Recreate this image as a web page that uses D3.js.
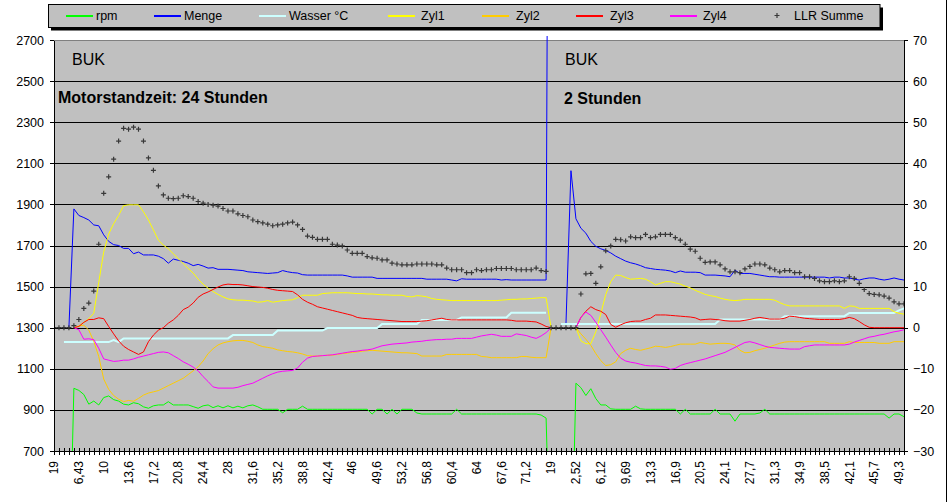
<!DOCTYPE html>
<html><head><meta charset="utf-8">
<script src="https://cdn.jsdelivr.net/npm/d3@7"></script>
<style>body{margin:0;background:#fff;} svg{display:block;font-family:"Liberation Sans",Arial,sans-serif;}</style>
</head><body><svg id="c" width="949" height="502"></svg>
<script>
const seriesNames = ["rpm","Menge","Wasser °C","Zyl1","Zyl2","Zyl3","Zyl4","LLR Summe"];
const tickLabels = ["19","6,43","10","13,6","17,2","20,8","24,4","28","31,6","35,2","38,8","42,4","46","49,6","53,2","56,8","60,4","64","67,6","71,2","19","2,52","6,12","9,69","13,3","16,9","20,5","24,1","27,7","31,3","34,9","38,5","42,1","45,7","49,3"];
const leftTicks = [700,900,1100,1300,1500,1700,1900,2100,2300,2500,2700];
const rightTicks = [-30,-20,-10,0,10,20,30,40,50,60,70];
const annotations = [["BUK",false],["Motorstandzeit: 24 Stunden",true],["BUK",false],["2 Stunden",true]];

const rpm = [0,0,0,0,1005,995,975,928,943,924,
960,968,950,943,928,924,935,930,915,908,
920,924,924,940,924,924,924,924,916,908,
920,924,911,920,910,920,910,918,910,920,
924,915,903,903,903,903,886,903,903,903,
918,903,903,903,903,903,903,903,903,903,
903,903,903,903,880,903,903,880,903,880,
903,903,903,885,880,880,880,880,880,880,
880,903,880,880,880,880,880,880,880,880,
880,880,880,880,880,880,880,880,875,860,
0,0,0,0,0,1030,1008,970,1003,955,
924,924,905,903,903,903,903,918,905,903,
903,903,903,903,903,903,880,903,880,880,
880,880,880,903,880,880,880,845,880,880,
880,880,885,903,880,880,880,880,880,880,
880,880,880,880,880,880,880,880,880,880,
880,880,880,880,880,880,880,880,860,880,
880,867];

const menge = [null,null,null,0,28.9,27.3,26.8,26.2,25.0,24.8,
22.6,21.0,20.2,20.0,19.3,19.3,18.0,18.4,17.7,17.7,
17.7,17.4,16.8,15.7,16.7,16.4,16.1,15.7,15.1,15.4,
15.0,14.5,14.6,14.2,14.2,14.2,14.1,14.0,13.9,13.6,
13.5,13.4,13.3,13.2,13.3,13.4,13.9,13.6,13.4,13.3,
12.9,12.8,12.8,12.8,12.8,12.8,12.8,12.8,12.8,12.6,
12.3,12.3,12.3,12.3,12.3,12.0,12.0,12.0,12.0,12.0,
12.0,12.0,12.0,12.0,12.0,11.8,11.8,11.8,11.8,11.8,
11.6,11.4,11.9,11.8,11.8,11.8,11.8,11.8,11.8,11.8,
11.6,11.7,11.6,11.6,11.6,11.6,11.6,11.6,11.6,11.6,
300,null,null,1.1,38.2,26.5,24.2,23.0,21.0,19.8,
19.2,18.8,18.2,17.4,16.8,16.2,15.8,15.5,15.1,14.6,
14.4,14.2,14.1,14.0,13.8,13.4,13.8,13.5,13.5,13.5,
13.4,12.8,12.8,12.8,12.7,12.6,12.4,14.0,13.2,13.2,
13.2,13.0,12.8,12.6,12.4,12.4,12.3,12.3,12.3,12.3,
12.3,12.3,12.3,12.3,12.3,12.3,12.1,12.3,12.3,12.1,
12.1,11.8,11.6,11.9,12.1,12.1,11.8,11.6,11.8,12.1,
11.8,11.6];

const wasser = [null,null,-3.5,-3.5,-3.5,-3.5,-3.5,-3.5,-3.5,-3.5,
-3.5,-3.5,-3.0,-3.5,-2.6,-2.6,-2.6,-2.6,-2.6,-2.6,
-2.6,-2.6,-2.6,-2.6,-2.6,-2.6,-2.6,-2.6,-2.6,-2.6,
-2.6,-2.6,-2.6,-2.6,-2.6,-2.6,-1.8,-1.8,-1.8,-1.8,
-1.8,-1.8,-1.8,-1.8,-1.8,-0.7,-0.7,-0.7,-0.7,-0.7,
-0.7,-0.7,-0.7,-0.7,-0.7,-0.1,-0.1,-0.1,-0.1,-0.1,
-0.1,-0.1,-0.1,-0.1,-0.1,-0.1,0.9,0.9,0.9,0.9,
0.9,0.9,0.9,0.9,1.9,1.9,1.9,1.9,1.9,1.9,
1.9,1.9,2.5,2.5,2.5,2.5,2.5,2.5,2.5,2.5,
2.5,2.5,3.65,3.65,3.65,3.65,3.65,3.65,3.65,3.65,
null,null,0.9,0.9,0.9,0.9,0.9,0.9,0.9,0.9,
0.9,0.9,0.9,0.9,0.9,0.9,0.9,0.9,0.9,0.9,
0.9,0.9,0.9,0.9,0.9,0.9,0.9,0.9,0.9,0.9,
0.9,0.9,0.9,0.9,2.0,2.0,2.0,2.0,2.0,2.0,
2.0,2.0,2.0,2.0,2.0,2.0,2.0,2.8,2.8,2.8,
2.8,2.8,2.8,2.8,2.8,2.8,2.8,2.8,2.8,2.8,
3.6,3.6,3.6,3.6,3.6,3.6,3.6,3.6,3.6,3.6,
4.2,4.7];

const zyl1 = [null,null,null,null,0,0.4,1.3,2.2,3.5,11.0,
18.4,22.8,25.3,27.3,29.7,29.9,29.9,29.9,28.2,26.2,
23.8,21.3,20.1,19.2,18.0,16.8,15.6,14.4,13.3,11.8,
10.6,9.6,8.8,8.1,7.5,7.0,6.8,6.7,6.7,6.6,
6.5,6.2,6.3,6.6,6.2,6.4,6.6,6.7,6.8,7.3,
7.9,7.9,7.9,7.9,8.3,8.4,8.5,8.5,8.5,8.5,
8.4,8.3,8.3,8.2,8.2,8.1,8.0,8.0,7.9,7.9,
7.9,7.6,7.5,7.8,7.7,7.5,7.1,6.9,6.8,6.7,
6.6,6.6,6.6,6.6,6.6,6.6,6.6,6.6,6.6,6.6,
6.7,6.8,6.9,6.9,7.0,7.0,7.1,7.2,7.3,7.3,
0,null,null,null,null,0,-3.2,-3.9,-3.9,-1.0,
3.4,8.1,11.2,12.8,12.7,12.2,11.8,11.9,12.0,11.8,
11.2,10.4,10.8,11.2,11.2,10.9,10.6,10.1,9.7,9.1,
8.6,8.1,7.8,7.6,7.2,6.9,6.7,6.6,6.7,6.9,
6.9,6.9,6.9,6.9,6.9,6.7,6.1,5.6,5.3,5.3,
5.3,5.3,5.3,5.3,5.3,5.3,5.3,5.3,5.3,4.7,
5.3,5.2,4.7,4.7,4.7,4.7,4.7,4.7,4.7,3.9,
3.5,3.3];

const zyl2 = [null,null,null,null,0,0.4,0.6,-0.6,-3.3,-7.0,
-12.5,-15.0,-16.5,-17.4,-18.0,-17.7,-17.9,-17.2,-16.4,-15.9,
-15.6,-15.3,-14.7,-14.1,-13.5,-12.9,-12.3,-11.4,-10.5,-9.5,
-8.1,-6.3,-5.1,-4.2,-3.7,-3.4,-3.2,-3.1,-3.1,-3.3,
-3.6,-4.2,-4.6,-4.8,-5.0,-5.4,-5.6,-5.8,-5.9,-6.1,
-6.4,-6.8,-6.9,-6.9,-6.8,-6.7,-6.7,-6.5,-6.3,-6.2,
-6.0,-5.9,-5.7,-5.6,-5.5,-5.6,-5.7,-5.8,-5.9,-6.0,
-6.1,-6.1,-6.2,-6.3,-6.9,-6.9,-6.9,-6.9,-6.9,-6.5,
-6.5,-6.5,-6.5,-6.5,-6.5,-6.5,-7.0,-7.1,-7.3,-7.3,
-7.3,-7.3,-7.3,-7.3,-7.0,-7.0,-7.2,-7.3,-7.3,-7.3,
0,null,null,null,null,0,-1.5,-2.8,-4.3,-6.3,
-8.0,-9.2,-9.0,-8.3,-6.3,-5.5,-5.0,-5.3,-5.5,-5.2,
-4.9,-4.5,-4.6,-4.8,-4.6,-4.3,-4.0,-4.0,-4.0,-4.0,
-3.6,-3.8,-4.0,-3.9,-3.8,-3.8,-3.9,-4.2,-5.5,-6.1,
-6.0,-5.6,-5.3,-5.0,-4.6,-4.2,-3.8,-3.5,-3.4,-3.4,
-3.4,-3.4,-3.4,-3.4,-3.4,-3.4,-3.8,-3.8,-3.8,-3.8,
-3.4,-3.6,-3.6,-3.6,-3.6,-3.6,-3.8,-3.8,-3.8,-3.4,
-3.4,-3.4];

const zyl3 = [null,null,null,null,0,0.3,1.3,2.0,2.0,2.4,
2.2,0.3,-1.5,-3.2,-4.5,-5.3,-5.9,-6.5,-5.9,-3.4,
-1.8,-0.6,0.0,1.1,1.9,3.0,4.4,5.0,6.0,7.4,
8.2,8.7,9.3,9.9,10.4,10.6,10.5,10.5,10.4,10.2,
10.0,9.9,9.8,9.6,9.3,9.1,9.0,8.9,8.8,8.0,
6.9,6.2,5.7,5.1,4.8,4.5,4.2,3.9,3.6,3.3,
3.0,2.5,2.3,2.2,2.1,2.0,1.9,1.8,1.7,1.6,
1.5,1.5,1.5,1.5,1.6,1.7,1.9,2.1,2.3,2.0,
1.9,1.9,1.9,1.9,1.9,1.9,1.9,1.9,1.9,1.9,
1.9,1.9,1.8,1.6,1.6,1.6,1.5,1.4,0.9,0.3,
0,null,null,null,null,0,2.5,4.0,5.1,4.4,
4.0,3.2,0.8,0.1,0.7,1.2,1.5,1.6,1.6,2.0,
2.3,3.1,3.1,3.1,3.0,2.9,2.8,2.7,2.6,2.4,
1.9,2.0,2.1,2.0,1.9,1.7,1.6,1.6,1.6,1.8,
2.0,2.3,2.5,2.3,2.1,2.1,2.1,2.3,2.8,2.7,
2.5,2.3,2.2,2.1,2.0,2.0,2.0,2.0,2.0,2.2,
2.5,2.2,1.5,0.7,0.1,0,0,0,0,0,
0,0];

const zyl4 = [null,null,null,null,0,-0.5,-2.8,-2.7,-2.9,-5.0,
-7.6,-7.9,-8.2,-8.1,-7.9,-7.9,-7.6,-7.2,-6.9,-6.6,
-6.3,-6.0,-5.9,-6.1,-6.8,-7.5,-8.3,-8.9,-9.6,-10.5,
-11.9,-13.1,-14.4,-14.7,-14.7,-14.7,-14.7,-14.5,-14.1,-13.8,
-13.5,-12.9,-12.3,-11.7,-11.2,-10.8,-10.6,-10.5,-10.4,-9.8,
-8.4,-7.4,-7.0,-6.9,-6.8,-6.7,-6.6,-6.4,-6.2,-6.0,
-5.8,-5.7,-5.5,-5.4,-5.2,-4.8,-4.4,-4.2,-4.0,-3.9,
-3.8,-3.7,-3.5,-3.4,-3.3,-3.1,-3.0,-2.9,-2.9,-2.8,
-2.8,-2.6,-2.6,-2.6,-2.6,-2.3,-2.0,-1.8,-1.6,-1.8,
-2.1,-2.1,-2.1,-1.5,-1.7,-1.9,-2.3,-2.6,-2.0,-1.2,
0,null,null,null,null,0,2.5,3.8,3.0,1.3,
-0.5,-2.3,-4.2,-6.0,-7.4,-8.1,-8.4,-8.6,-8.9,-9.2,
-9.3,-9.3,-9.4,-9.6,-10.1,-9.9,-9.2,-8.8,-8.5,-8.2,
-7.9,-7.6,-7.2,-6.8,-6.4,-6.0,-5.4,-4.8,-4.2,-3.6,
-3.4,-3.7,-4.1,-4.5,-4.8,-4.9,-5.0,-5.1,-5.2,-5.2,
-5.2,-4.6,-4.4,-4.2,-4.2,-4.2,-4.2,-4.2,-4.2,-4.2,
-4.0,-3.5,-3.1,-2.7,-2.3,-2.1,-1.8,-1.6,-1.3,-1.0,
-0.8,-0.5];

const llr = [0,0,0,0,0.5,2.0,4.7,6.0,8.9,20.3,
32.7,36.7,41.0,45.4,48.5,48.3,48.8,48.3,45.4,41.3,
38.3,34.5,32.3,31.5,31.4,31.5,32.1,31.9,31.5,30.7,
30.3,30.0,29.8,29.6,29.0,28.4,28.4,27.7,27.3,27.0,
26.2,25.8,25.5,25.2,24.8,25.0,25.2,25.5,25.7,25.0,
23.9,22.3,22.0,21.5,21.5,21.5,20.3,20.1,19.9,18.9,
18.1,18.1,18.1,17.3,17.0,16.9,16.5,16.5,15.7,15.5,
15.3,15.3,15.3,15.5,15.5,15.5,15.5,15.3,15.3,14.5,
14.1,14.1,14.1,13.4,13.4,14.1,13.9,14.1,14.1,14.4,
14.4,14.4,14.4,14.1,14.1,14.1,14.1,14.5,13.9,13.7,
0,0,0,0,0,0,8.2,13.1,13.2,10.8,
14.8,18.7,19.9,21.5,21.4,21.1,22.1,21.9,21.9,22.7,
21.9,22.1,22.7,22.7,22.7,21.9,21.3,20.3,19.1,18.6,
16.9,15.9,16.0,16.0,15.3,14.3,13.6,13.6,13.4,14.3,
14.9,15.5,15.5,15.3,14.5,14.1,13.6,13.9,13.9,13.4,
13.4,12.4,12.4,12.0,11.4,11.2,11.2,11.4,11.2,11.4,
12.4,12.0,10.8,9.3,8.3,8.1,8.0,7.7,7.2,6.3,
5.8,5.8];

const W = 949, H = 502, L = 54, R = 904, T = 40, B = 451;
const N = rpm.length;
const x = d3.scalePoint().domain(d3.range(N)).range([L, R]);
const yL = d3.scaleLinear().domain([700, 2700]).range([B, T]);
const yR = d3.scaleLinear().domain([-30, 70]).range([B, T]);

const svg = d3.select('#c');

// outer right border
svg.append('line').attr('x1', 946.5).attr('x2', 946.5).attr('y1', 0).attr('y2', H).attr('stroke', '#000');

// plot area
svg.append('rect').attr('x', L).attr('y', T).attr('width', R - L).attr('height', B - T).attr('fill', '#c0c0c0');
svg.append('line').attr('x1', L).attr('x2', R).attr('y1', T + 0.5).attr('y2', T + 0.5).attr('stroke', '#808080');

// gridlines
svg.append('g').selectAll('line').data(leftTicks.filter(v => v > 700 && v < 2700)).join('line')
  .attr('x1', L).attr('x2', R).attr('y1', d => Math.round(yL(d)) + 0.5).attr('y2', d => Math.round(yL(d)) + 0.5)
  .attr('stroke', '#000').attr('stroke-width', 1);

// annotations
const annPos = [[72, 65], [58, 102.5], [565, 65], [564, 103.5]];
svg.append('g').selectAll('text').data(annotations).join('text')
  .attr('x', (d, i) => annPos[i][0]).attr('y', (d, i) => annPos[i][1])
  .attr('font-size', 16).attr('font-weight', d => d[1] ? 'bold' : 'normal').attr('fill', '#000')
  .text(d => d[0]);

// series
const clip = svg.append('defs').append('clipPath').attr('id', 'pc');
clip.append('rect').attr('x', L).attr('y', 36).attr('width', R - L + 1).attr('height', B - 36);

const series = [
  { v: rpm, c: '#00ff00', y: yL, w: 1 },
  { v: menge, c: '#0000ff', y: yR, w: 1 },
  { v: wasser, c: '#ccffff', y: yR, w: 2 },
  { v: zyl1, c: '#ffff00', y: yR, w: 1 },
  { v: zyl2, c: '#ffcc00', y: yR, w: 1 },
  { v: zyl3, c: '#ff0000', y: yR, w: 1 },
  { v: zyl4, c: '#ff00ff', y: yR, w: 1 }
];
const gS = svg.append('g').attr('clip-path', 'url(#pc)');
series.forEach(s => {
  const line = d3.line().defined(d => d != null).x((d, i) => x(i)).y(d => s.y(d));
  gS.append('path').datum(s.v).attr('d', line).attr('fill', 'none')
    .attr('stroke', s.c).attr('stroke-width', s.w).attr('stroke-linejoin', 'miter');
});
const plus = 'M-2.5,0H2.5M0,-2.5V2.5';
gS.append('g').selectAll('path').data(llr).join('path')
  .attr('transform', (d, i) => `translate(${x(i)},${yR(d)})`)
  .attr('d', plus).attr('stroke', '#383838').attr('stroke-width', 1.2).attr('fill', 'none');

// axes
const ax = svg.append('g').attr('font-size', 12.5).attr('fill', '#000');
const gl = ax.append('g').attr('transform', `translate(${L},0)`)
  .call(d3.axisLeft(yL).tickValues(leftTicks).tickSize(4).tickSizeOuter(0).tickPadding(6).tickFormat(d3.format('d')));
const gr = ax.append('g').attr('transform', `translate(${R},0)`)
  .call(d3.axisRight(yR).tickValues(rightTicks).tickSize(4).tickSizeOuter(0).tickPadding(5).tickFormat(d3.format('d')));
[gl, gr].forEach(g => {
  g.attr('font-size', 12.5).attr('font-family', '"Liberation Sans", Arial, sans-serif');
  g.selectAll('line,path').attr('stroke', '#000').attr('shape-rendering', 'crispEdges');
  g.selectAll('text').attr('fill', '#000');
});

// x axis
const gx = svg.append('g');
gx.append('line').attr('x1', L).attr('x2', R).attr('y1', B + 0.5).attr('y2', B + 0.5).attr('stroke', '#000');
gx.append('g').selectAll('line').data(x.domain()).join('line')
  .attr('x1', d => Math.round(x(d)) + 0.5).attr('x2', d => Math.round(x(d)) + 0.5)
  .attr('y1', B - 3).attr('y2', B + 4).attr('stroke', '#000').attr('stroke-width', 1);
gx.append('g').selectAll('text').data(tickLabels).join('text')
  .attr('transform', (d, k) => `translate(${x(k * 5)},461) rotate(-90)`)
  .attr('text-anchor', 'end').attr('dy', '0.35em').attr('font-size', 12).attr('fill', '#000')
  .text(d => d);

// legend
svg.append('rect').attr('x', 51).attr('y', 7.5).attr('width', 832).attr('height', 23).attr('fill', '#000');
svg.append('rect').attr('x', 48.5).attr('y', 4.5).attr('width', 831.5).attr('height', 23).attr('fill', '#c0c0c0').attr('stroke', '#000');
const legLineX = [66, 154, 259, 388, 482, 576, 670];
const legTextX = [96, 184, 289, 421, 516, 610, 703];
const lg = svg.append('g');
series.forEach((s, i) => {
  lg.append('line').attr('x1', legLineX[i]).attr('x2', legLineX[i] + 27).attr('y1', 16).attr('y2', 16)
    .attr('stroke', s.c).attr('stroke-width', 2);
  lg.append('text').attr('x', legTextX[i]).attr('y', 20).attr('font-size', 12.5).attr('fill', '#000').text(seriesNames[i]);
});
lg.append('path').attr('transform', 'translate(777,15.5)').attr('d', plus).attr('stroke', '#383838').attr('stroke-width', 1.2);
lg.append('text').attr('x', 794).attr('y', 20).attr('font-size', 12.5).attr('fill', '#000').text(seriesNames[7]);
</script>
</body></html>
